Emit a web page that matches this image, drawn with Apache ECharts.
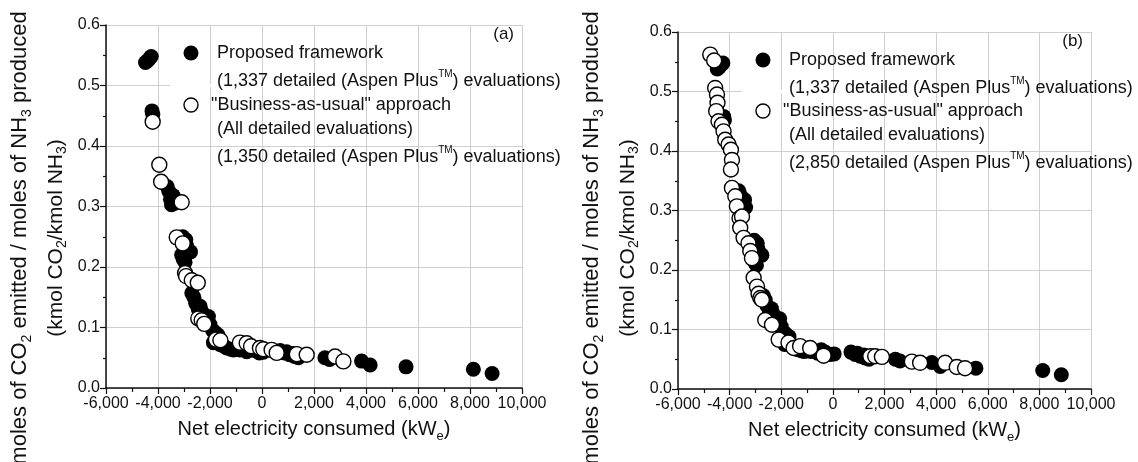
<!DOCTYPE html>
<html>
<head>
<meta charset="utf-8">
<title>CO2 emitted vs net electricity consumed</title>
<script src="https://cdn.jsdelivr.net/npm/echarts@6/dist/echarts.min.js"></script>
<style>
  html, body { margin: 0; padding: 0; background: #fff; }
  #chart { width: 1138px; height: 462px; }
</style>
</head>
<body>
<div id="chart"></div>
<script>
// proposed framework, same 1,337 evaluations shown in both panels
const proposed = [
  [-4480, 0.538], [-4400, 0.541], [-4320, 0.545], [-4260, 0.548],
  [-4230, 0.458], [-4200, 0.452],
  [-3650, 0.333], [-3580, 0.325], [-3520, 0.312], [-3480, 0.303], [-3420, 0.318], [-3380, 0.305],
  [-3050, 0.250], [-2930, 0.245], [-3090, 0.220], [-3030, 0.213], [-2960, 0.208], [-2830, 0.228],
  [-2750, 0.225], [-2900, 0.235],
  [-2700, 0.157], [-2620, 0.150], [-2550, 0.140], [-2450, 0.130], [-2380, 0.135], [-2300, 0.125],
  [-2130, 0.112], [-2060, 0.118], [-2000, 0.105],
  [-1900, 0.095], [-1810, 0.092], [-1700, 0.088], [-1870, 0.075], [-1620, 0.072], [-1500, 0.070],
  [-1360, 0.066], [-1200, 0.064], [-1100, 0.063], [-850, 0.063], [-700, 0.064], [-590, 0.060],
  [-450, 0.066], [-300, 0.062], [-100, 0.058], [50, 0.059],
  [700, 0.062], [860, 0.058], [950, 0.060], [1060, 0.055], [1200, 0.057], [1250, 0.052],
  [1400, 0.050], [1460, 0.053],
  [2420, 0.050], [2600, 0.047],
  [3830, 0.0445], [4160, 0.038],
  [5540, 0.035],
  [8130, 0.031],
  [8850, 0.024]
];

// business-as-usual, panel (a): 1,350 evaluations
const usualA = [
  [-4205, 0.440], [-3950, 0.369], [-3880, 0.341], [-3090, 0.307],
  [-3280, 0.249], [-3050, 0.239], [-2960, 0.190],
  [-2920, 0.185], [-2700, 0.178], [-2470, 0.174],
  [-2450, 0.115], [-2320, 0.112], [-2220, 0.106],
  [-1770, 0.080], [-1600, 0.079], [-850, 0.075], [-590, 0.074], [-420, 0.069],
  [-80, 0.066], [50, 0.064], [370, 0.063], [565, 0.058], [1340, 0.056], [1720, 0.055],
  [2810, 0.052], [3130, 0.044]
];

// business-as-usual, panel (b): 2,850 evaluations
const usualB = [
  [-4750, 0.562], [-4600, 0.552], [-4560, 0.506], [-4490, 0.495], [-4470, 0.481], [-4520, 0.467],
  [-4430, 0.450], [-4300, 0.444], [-4235, 0.433], [-4170, 0.419], [-4040, 0.411], [-3950, 0.402],
  [-3910, 0.385], [-3950, 0.369],
  [-3910, 0.338], [-3780, 0.324], [-3720, 0.307], [-3615, 0.287], [-3520, 0.290], [-3590, 0.271],
  [-3460, 0.254], [-3270, 0.245], [-3200, 0.232], [-3135, 0.220], [-3070, 0.187], [-2940, 0.172],
  [-2880, 0.160], [-2810, 0.153], [-2750, 0.150], [-2620, 0.116], [-2360, 0.108], [-2100, 0.083],
  [-1720, 0.078], [-1520, 0.069], [-1270, 0.072], [-880, 0.069], [-360, 0.056],
  [1450, 0.055], [1640, 0.055], [1900, 0.054], [3060, 0.046], [3380, 0.044],
  [4350, 0.044], [4800, 0.037], [5120, 0.035]
];

const panels = ['(a)', '(b)'];
const usualCounts = ['1,350', '2,850'];

const FONT = '"Liberation Sans", Arial, sans-serif';
const INK = '#111';
const chart = echarts.init(document.getElementById('chart'));

const grids = [
  { left: 106, top: 25, width: 416, height: 363 },
  { left: 678, top: 32, width: 413, height: 357 }
];

function fmtX(v) {
  const s = String(Math.abs(v)).replace(/\B(?=(\d{3})+(?!\d))/g, ',');
  return v < 0 ? '-' + s : s;
}

const legendRich = {
  t: { fontSize: 10, fontFamily: FONT, verticalAlign: 'top', lineHeight: 10, fill: INK }
};

function xAxisFor(i) {
  return {
    type: 'value', gridIndex: i, min: -6000, max: 10000, interval: 2000,
    name: 'Net electricity consumed (kW{s|e})',
    nameLocation: 'middle', nameGap: 27,
    nameTextStyle: { fontSize: 20, fontFamily: FONT, color: INK, lineHeight: 26,
      rich: { s: { fontSize: 13, fontFamily: FONT, verticalAlign: 'bottom', lineHeight: 13, color: INK } } },
    axisLine: { onZero: false, lineStyle: { color: INK, width: 1.5 } },
    axisTick: { length: 6, lineStyle: { color: INK, width: 1.2 } },
    minorTick: { show: true, splitNumber: 2, length: 4, lineStyle: { color: INK, width: 1.2 } },
    axisLabel: { formatter: fmtX, fontSize: 16, fontFamily: FONT, color: INK, margin: 8 },
    splitLine: { show: true, lineStyle: { color: '#cfcfcf', width: 1 } }
  };
}

function yAxisFor(i) {
  return {
    type: 'value', gridIndex: i, min: 0, max: 0.6, interval: 0.1,
    axisLine: { show: true, onZero: false, lineStyle: { color: INK, width: 1.5 } },
    axisTick: { show: true, length: 6, lineStyle: { color: INK, width: 1.2 } },
    minorTick: { show: true, splitNumber: 2, length: 3, lineStyle: { color: INK, width: 1.2 } },
    axisLabel: { formatter: v => v.toFixed(1), fontSize: 16, fontFamily: FONT, color: INK, margin: 6 },
    splitLine: { show: true, lineStyle: { color: '#cfcfcf', width: 1 } }
  };
}

// scatter defaults to 0.8 opacity, the reference markers are solid
const filled = { color: '#000', opacity: 1 };
const open = { color: '#fff', borderColor: '#000', borderWidth: 1.4, opacity: 1 };

// legend, axis titles and panel labels drawn as graphics
const graphics = [];
const legendY = [[53, 81, 105, 129, 157], [60, 88, 111, 135, 163]];
grids.forEach((g, i) => {
  const lx = g.left + 85;
  const ys = legendY[i];
  const txt = (x, y, text) => ({
    type: 'text', x: x, y: y, z: 10,
    style: { text: text, font: '18px ' + FONT, fill: INK, lineHeight: 24,
      verticalAlign: 'middle', align: 'left', rich: legendRich }
  });
  // the 0.5 grid line is hidden behind the legend
  graphics.push({ type: 'rect', z: 1, shape: { x: g.left + 64, y: g.top + g.height / 6 - 1.5, width: g.width - 64, height: 3 },
    style: { fill: '#fff' } });
  graphics.push({ type: 'circle', z: 10, shape: { cx: lx, cy: ys[0], r: 7.5 }, style: { fill: '#000' } });
  graphics.push(txt(lx + 26, ys[0], 'Proposed framework'));
  graphics.push(txt(lx + 26, ys[1], '(1,337 detailed (Aspen Plus{t|TM}) evaluations)'));
  graphics.push({ type: 'circle', z: 10, shape: { cx: lx, cy: ys[2], r: 7 }, style: { fill: '#fff', stroke: '#000', lineWidth: 1.4 } });
  graphics.push(txt(lx + 20, ys[2], '"Business-as-usual" approach'));
  graphics.push(txt(lx + 26, ys[3], '(All detailed evaluations)'));
  graphics.push(txt(lx + 26, ys[4], '(' + usualCounts[i] + ' detailed (Aspen Plus{t|TM}) evaluations)'));
  graphics.push({ type: 'text', x: g.left + g.width - 8, y: g.top + 9, z: 10,
    style: { text: panels[i], font: '17px ' + FONT, fill: INK, verticalAlign: 'middle', align: 'right' } });
  // rotated y axis titles
  const base = g.left - 106;
  const yt = (x, size, text) => ({
    type: 'text', x: x, y: 238, rotation: Math.PI / 2, z: 10,
    style: { text: text, font: size + 'px ' + FONT, fill: INK, lineHeight: size + 6, align: 'center', verticalAlign: 'middle',
      rich: { s: { fontSize: 14, fontFamily: FONT, verticalAlign: 'bottom', lineHeight: 14, fill: INK } } }
  });
  graphics.push(yt(base + 20, 22, 'moles of CO{s|2} emitted / moles of NH{s|3} produced'));
  graphics.push(yt(base + 56, 21, '(kmol CO{s|2}/kmol NH{s|3})'));
});

chart.setOption({
  backgroundColor: '#fff',
  animation: false,
  grid: grids,
  xAxis: [xAxisFor(0), xAxisFor(1)],
  yAxis: [yAxisFor(0), yAxisFor(1)],
  series: [
    { type: 'scatter', xAxisIndex: 0, yAxisIndex: 0, data: proposed, symbolSize: 15, itemStyle: filled },
    { type: 'scatter', xAxisIndex: 0, yAxisIndex: 0, data: usualA, symbolSize: 15, itemStyle: open },
    { type: 'scatter', xAxisIndex: 1, yAxisIndex: 1, data: proposed, symbolSize: 15, itemStyle: filled },
    { type: 'scatter', xAxisIndex: 1, yAxisIndex: 1, data: usualB, symbolSize: 15, itemStyle: open }
  ],
  graphic: graphics
});
</script>
</body>
</html>
